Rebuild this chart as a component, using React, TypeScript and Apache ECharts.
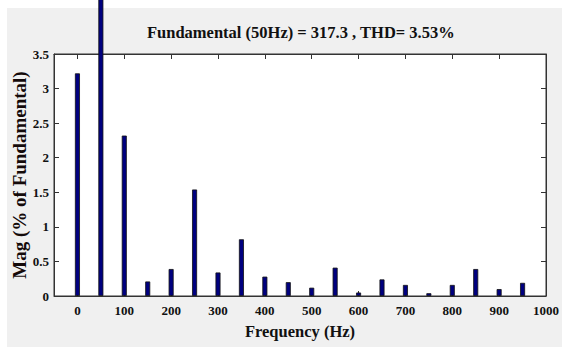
import React, { useEffect, useRef } from "react";
import * as echarts from "echarts";

const frequencies = [0, 50, 100, 150, 200, 250, 300, 350, 400, 450, 500, 550, 600, 650, 700, 750, 800, 850, 900, 950];
const magnitudes = [3.22, 100, 2.32, 0.21, 0.39, 1.54, 0.34, 0.82, 0.28, 0.2, 0.12, 0.41, 0.05, 0.24, 0.16, 0.04, 0.16, 0.39, 0.1, 0.19];
const xTicks = [0, 100, 200, 300, 400, 500, 600, 700, 800, 900, 1000];
const titleText = "Fundamental (50Hz) = 317.3 , THD= 3.53%";
const xName = "Frequency (Hz)";
const yName = "Mag (% of Fundamental)";

const FONT = "Liberation Serif";
const AXIS = "#333333";

export default function App() {
  const ref = useRef<HTMLDivElement>(null);
  useEffect(() => {
    if (!ref.current) return;
    const chart = echarts.init(ref.current, undefined, { renderer: "svg" });
    const data = frequencies.map((f, i) => [f, magnitudes[i]]);
    const tickCommon = { show: true, inside: true, length: 5, lineStyle: { color: AXIS, width: 1 } };
    chart.setOption({
      animation: false,
      backgroundColor: "#ffffff",
      textStyle: { fontFamily: FONT },
      title: {
        text: titleText,
        left: 147,
        top: 24,
        padding: 0,
        textStyle: { fontFamily: FONT, fontWeight: "bold", fontSize: 16.5, color: "#111" },
      },
      graphic: [
        {
          type: "rect",
          z: -100,
          silent: true,
          shape: { x: 7, y: 8, width: 562, height: 347 },
          style: { fill: "#f0f0f0" },
        },
        {
          type: "text",
          x: 19,
          y: 175,
          rotation: Math.PI / 2,
          style: {
            text: yName,
            align: "center",
            verticalAlign: "middle",
            fontFamily: FONT,
            fontWeight: "bold",
            fontSize: 19,
            fill: "#140a0a",
          },
        },
      ],
      grid: {
        left: 54,
        right: 12,
        top: 54,
        bottom: 51,
        show: true,
        backgroundColor: "#ffffff",
        borderColor: AXIS,
        borderWidth: 1,
        z: 0,
      },
      xAxis: [
        {
          type: "value",
          min: -50,
          max: 1000,
          position: "bottom",
          axisLine: { show: true, onZero: false, lineStyle: { color: AXIS } },
          axisTick: { ...tickCommon, customValues: xTicks },
          axisLabel: {
            customValues: xTicks,
            formatter: (v: number) => String(v),
            margin: 8,
            fontFamily: FONT,
            fontWeight: "bold",
            fontSize: 13,
            color: "#111",
          },
          splitLine: { show: false },
          name: xName,
          nameLocation: "middle",
          nameGap: 27,
          nameTextStyle: { fontFamily: FONT, fontWeight: "bold", fontSize: 16.5, color: "#111" },
        },
        {
          type: "value",
          min: -50,
          max: 1000,
          position: "top",
          axisLine: { show: true, onZero: false, lineStyle: { color: AXIS } },
          axisTick: { ...tickCommon, customValues: xTicks },
          axisLabel: { show: false },
          splitLine: { show: false },
        },
      ],
      yAxis: [
        {
          type: "value",
          min: 0,
          max: 3.5,
          interval: 0.5,
          position: "left",
          axisLine: { show: true, onZero: false, lineStyle: { color: AXIS } },
          axisTick: tickCommon,
          axisLabel: {
            margin: 5,
            fontFamily: FONT,
            fontWeight: "bold",
            fontSize: 13,
            color: "#111",
          },
          splitLine: { show: false },
        },
        {
          type: "value",
          min: 0,
          max: 3.5,
          interval: 0.5,
          position: "right",
          axisLine: { show: true, onZero: false, lineStyle: { color: AXIS } },
          axisTick: tickCommon,
          axisLabel: { show: false },
          splitLine: { show: false },
        },
      ],
      series: [
        {
          type: "bar",
          xAxisIndex: 0,
          yAxisIndex: 0,
          data,
          barWidth: 5,
          clip: false,
          z: 5,
          itemStyle: { color: "#00007f", borderColor: "#111", borderWidth: 0.8 },
        },
      ],
    });
    return () => chart.dispose();
  }, []);
  return (
    <div
      ref={ref}
      style={{ position: "absolute", left: 0, top: 0, width: 562, height: 347 }}
    />
  );
}
